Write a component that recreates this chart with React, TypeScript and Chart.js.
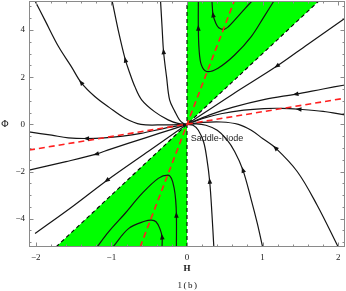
import { useEffect, useRef } from 'react';
import { Chart, registerables } from 'chart.js';

Chart.register(...registerables);

type P = [number, number];

// axes
const xRange: P = [-2.09, 2.09];
const yRange: P = [-5.2, 5.23];
const xTicks = [-2, -1, 0, 1, 2];
const yTicks = [-4, -2, 0, 2, 4];
const xMinor = [-1.8, -1.6, -1.4, -1.2, -0.8, -0.6, -0.4, -0.2, 0.2, 0.4, 0.6, 0.8, 1.2, 1.4, 1.6, 1.8];
const yMinor = [-5, -4.5, -3.5, -3, -2.5, -1.5, -1, -0.5, 0.5, 1, 1.5, 2.5, 3, 3.5, 4.5, 5];

// regions and separatrices
const upperGreen: P[] = [[0, 0], [0, 5.23], [1.743, 5.23], [0, 0]];
const lowerGreen: P[] = [[0, 0], [0, -5.2], [-1.733, -5.2], [0, 0]];
const verticalSep: P[] = [[0, -5.2], [0, 5.23]];
const slantSep: P[] = [[-1.733, -5.2], [1.743, 5.23]];
const redSteep: P[] = [[-0.62, -5.2], [0.625, 5.23]];
const redShallow: P[] = [[-2.09, -1.09], [2.09, 1.11]];

// trajectories (listed in flow direction)
const traj1: P[] = [[0, 0], [-0.3, -0.02], [-0.61, 0.0], [-0.82, 0.26], [-1.03, 0.72], [-1.22, 1.18], [-1.40, 1.77], [-1.53, 2.45], [-1.70, 3.30], [-1.88, 4.42], [-2.01, 5.23]];
const traj2: P[] = [[0, 0], [-0.12, 0.04], [-0.25, 0.19], [-0.43, 0.54], [-0.60, 1.04], [-0.69, 1.6], [-0.76, 2.2], [-0.815, 2.73], [-0.91, 4.0], [-0.99, 5.23]];
const traj3: P[] = [[0, 0], [-0.05, 0.05], [-0.10, 0.19], [-0.16, 0.54], [-0.23, 1.04], [-0.27, 2.0], [-0.31, 3.08], [-0.33, 4.14], [-0.35, 5.23]];
const traj5: P[] = [[0, 0], [-0.3, -0.17], [-0.61, -0.38], [-0.85, -0.5], [-1.05, -0.56], [-1.33, -0.60], [-1.57, -0.57], [-1.79, -0.46], [-2.09, -0.32]];
const traj6: P[] = [[0, 0], [-0.2, -0.21], [-0.54, -0.56], [-1.02, -1.06], [-1.20, -1.26], [-1.6, -1.58], [-2.09, -1.94]];
const traj7: P[] = [[0, 0], [-0.5, -1.12], [-1.06, -2.38], [-1.5, -3.45], [-2.01, -4.63]];
const traj8: P[] = [[-0.14, -5.2], [-0.14, -3.85], [-0.15, -3.2], [-0.17, -2.7], [-0.205, -2.3], [-0.25, -2.15], [-0.38, -2.29], [-0.6, -2.95], [-0.82, -3.78], [-1.04, -4.57], [-1.19, -5.2]];
const traj9: P[] = [[-0.33, -5.2], [-0.33, -4.77], [-0.36, -4.41], [-0.41, -4.13], [-0.47, -4.06], [-0.55, -4.1], [-0.77, -4.41], [-0.98, -5.2]];
const trajA: P[] = [[1.15, 5.23], [1.02, 4.57], [0.85, 3.72], [0.63, 2.94], [0.41, 2.38], [0.26, 2.24], [0.19, 2.52], [0.16, 3.16], [0.15, 4.08], [0.15, 5.23]];
const trajB: P[] = [[0.86, 5.23], [0.77, 4.92], [0.63, 4.42], [0.55, 4.15], [0.49, 4.03], [0.42, 4.1], [0.38, 4.3], [0.345, 4.64], [0.33, 5.23]];
const traj14: P[] = [[2.09, 4.5], [1.6, 3.4], [1.19, 2.47], [0.6, 1.27], [0, 0]];
const traj15: P[] = [[2.09, 1.67], [1.8, 1.5], [1.44, 1.28], [1.03, 1.06], [0.6, 0.72], [0.3, 0.4], [0, 0]];
const traj16: P[] = [[2.09, 0.40], [1.8, 0.55], [1.48, 0.64], [1.25, 0.68], [1.02, 0.67], [0.75, 0.6], [0.45, 0.45], [0.2, 0.24], [0, 0]];
const traj10: P[] = [[0.355, -5.2], [0.33, -3.8], [0.30, -2.41], [0.26, -1.4], [0.22, -0.75], [0.15, -0.25], [0.08, -0.04], [0, 0]];
const traj11: P[] = [[1.0, -5.2], [0.93, -4.2], [0.85, -3.2], [0.74, -1.94], [0.63, -1.15], [0.52, -0.62], [0.4, -0.25], [0.25, -0.04], [0.12, 0.02], [0, 0]];
const traj12: P[] = [[2.0, -5.2], [1.72, -3.42], [1.46, -2.01], [1.17, -1.0], [1.0, -0.6], [0.85, -0.25], [0.68, 0.0], [0.45, 0.1], [0.2, 0.08], [0, 0]];

const trajectories = [traj1, traj2, traj3, traj5, traj6, traj7, traj8, traj9, trajA, trajB, traj14, traj15, traj16, traj10, traj11, traj12];
// index of the point carrying the arrowhead on each trajectory
const arrowIndices = [6, 7, 6, 5, 4, 2, 1, 1, 8, 7, 2, 2, 2, 2, 3, 3];

const pointLabel = 'Saddle-Node';
const pointLabelPos: P = [0.05, -0.585];

const toXY = (p: P[]) => p.map(([x, y]) => ({ x, y }));

const fmt = (v: number) => (v < 0 ? '\u2212' + Math.abs(v) : String(v));

const framePlugin = {
  id: 'framePlugin',
  afterDatasetsDraw(chart: any) {
    const ctx = chart.ctx;
    const { left, right, top, bottom } = chart.chartArea;
    const xs = chart.scales.x;
    const ys = chart.scales.y;
    ctx.save();
    // arrowheads
    chart.data.datasets.forEach((ds: any, i: number) => {
      if (ds.arrowAt === undefined) return;
      const pts = chart.getDatasetMeta(i).data;
      const k = ds.arrowAt;
      const a = pts[k - 1], p = pts[k], b = pts[k + 1];
      const ang = Math.atan2(b.y - a.y, b.x - a.x);
      ctx.save();
      ctx.translate(p.x, p.y);
      ctx.rotate(ang);
      ctx.fillStyle = '#111';
      ctx.beginPath();
      ctx.moveTo(3.2, 0);
      ctx.lineTo(-2.6, -2.3);
      ctx.lineTo(-2.6, 2.3);
      ctx.closePath();
      ctx.fill();
      ctx.restore();
    });
    // frame
    ctx.strokeStyle = '#8a8a8a';
    ctx.lineWidth = 1;
    ctx.strokeRect(left + 0.5, top + 0.5, right - left - 1, bottom - top - 1);
    const tick = (len: number, vx: number[], vy: number[]) => {
      ctx.beginPath();
      vx.forEach((v) => {
        const px = Math.round(xs.getPixelForValue(v)) + 0.5;
        ctx.moveTo(px, bottom); ctx.lineTo(px, bottom - len);
        ctx.moveTo(px, top); ctx.lineTo(px, top + len);
      });
      vy.forEach((v) => {
        const py = Math.round(ys.getPixelForValue(v)) + 0.5;
        ctx.moveTo(left, py); ctx.lineTo(left + len, py);
        ctx.moveTo(right, py); ctx.lineTo(right - len, py);
      });
      ctx.stroke();
    };
    tick(4.5, xTicks, yTicks);
    tick(2.5, xMinor, yMinor);
    // texts
    ctx.fillStyle = '#222';
    ctx.font = '9px "Liberation Sans", Arial, sans-serif';
    ctx.textAlign = 'left';
    ctx.textBaseline = 'middle';
    ctx.fillText(pointLabel, xs.getPixelForValue(pointLabelPos[0]), ys.getPixelForValue(pointLabelPos[1]));
    ctx.fillStyle = '#111';
    ctx.font = '10px "Liberation Serif", "DejaVu Serif", serif';
    ctx.textAlign = 'center';
    ctx.fillText('\u03A6', 5, ys.getPixelForValue(0));
    ctx.font = 'bold 9px "Liberation Serif", "DejaVu Serif", serif';
    ctx.fillText('H', (left + right) / 2, 269);
    ctx.font = '9px "Liberation Serif", "DejaVu Serif", serif';
    (ctx as any).letterSpacing = '1.5px';
    ctx.fillText('1(b)', (left + right) / 2 + 1, 286);
    ctx.restore();
  },
};

export default function App() {
  const ref = useRef<HTMLCanvasElement | null>(null);
  useEffect(() => {
    if (!ref.current) return;
    const datasets: any[] = [];
    [redSteep, redShallow].forEach((d) =>
      datasets.push({ data: toXY(d), showLine: true, borderColor: '#ff2020', borderWidth: 1.6, borderDash: [6, 4], pointRadius: 0, tension: 0, order: 0 })
    );
    trajectories.forEach((d, i) =>
      datasets.push({ data: toXY(d), showLine: true, borderColor: '#151515', borderWidth: 1.2, pointRadius: 0, tension: 0.35, order: 1, arrowAt: arrowIndices[i] })
    );
    [verticalSep, slantSep].forEach((d) =>
      datasets.push({ data: toXY(d), showLine: true, borderColor: '#000', borderWidth: 1.1, borderDash: [4, 3], pointRadius: 0, tension: 0, order: 2 })
    );
    [upperGreen, lowerGreen].forEach((d) =>
      datasets.push({ data: toXY(d), showLine: true, borderWidth: 0, borderColor: 'rgba(0,0,0,0)', backgroundColor: '#00ff00', fill: 'shape', pointRadius: 0, tension: 0, order: 3 })
    );
    const tickFont = { family: '"Liberation Serif", "DejaVu Serif", serif', size: 9 };
    const chart = new Chart(ref.current, {
      type: 'scatter',
      data: { datasets },
      options: {
        animation: false,
        responsive: false,
        events: [],
        layout: { padding: { top: 1, right: 1, left: 0, bottom: 0 } },
        plugins: { legend: { display: false }, tooltip: { enabled: false } },
        scales: {
          x: {
            type: 'linear',
            min: xRange[0],
            max: xRange[1],
            grid: { display: false, drawTicks: false },
            border: { display: false },
            ticks: { font: tickFont, color: '#222', padding: 5, autoSkip: false, maxRotation: 0, callback: (v: any) => fmt(Number(v)) },
            afterBuildTicks: (s: any) => { s.ticks = xTicks.map((v) => ({ value: v })); },
            afterFit: (s: any) => { s.height = 44; s.paddingLeft = 0; s.paddingRight = 0; s.paddingTop = 0; s.paddingBottom = 0; },
          },
          y: {
            type: 'linear',
            min: yRange[0],
            max: yRange[1],
            grid: { display: false, drawTicks: false },
            border: { display: false },
            ticks: { font: tickFont, color: '#222', padding: 4, autoSkip: false, callback: (v: any) => fmt(Number(v)) },
            afterBuildTicks: (s: any) => { s.ticks = yTicks.map((v) => ({ value: v })); },
            afterFit: (s: any) => { s.width = 29; s.paddingLeft = 0; s.paddingRight = 0; s.paddingTop = 0; s.paddingBottom = 0; },
          },
        },
      } as any,
      plugins: [framePlugin],
    });
    return () => chart.destroy();
  }, []);
  return (
    <div style={{ position: 'absolute', left: 0, top: 0, width: 346, height: 291, background: '#fff' }}>
      <canvas ref={ref} width={346} height={291} style={{ display: 'block' }} />
    </div>
  );
}
